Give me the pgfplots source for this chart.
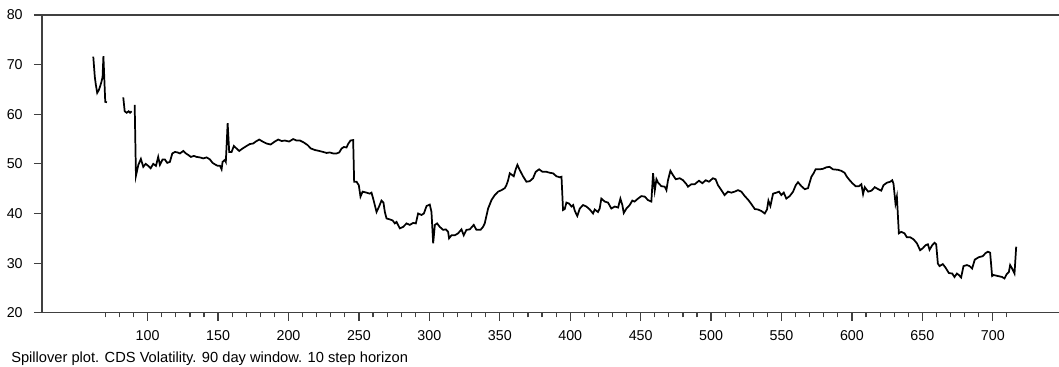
\documentclass[border=0pt]{standalone}
\usepackage{pgfplots}
\pgfplotsset{compat=1.18}
\usepackage{fontspec}
\setmainfont{Liberation Sans}
\begin{document}
\begin{tikzpicture}
\begin{axis}[
  name=ax,
  scale only axis,
  width=762.75pt, height=223.3pt,
  xmin=25, xmax=747, ymin=20, ymax=80,
  axis x line*=bottom, axis y line*=left,
  axis line style={black!75, line width=1pt},
  xtick={100,150,...,700},
  minor xtick={70,80,...,710},
  ytick={20,30,...,80},
  tick align=outside,
  major tick length=6pt, minor tick length=3.5pt,
  every x tick/.style={black!75, line width=0.9pt},
  every y tick/.style={black!75, line width=0.9pt},
  every minor tick/.style={black!75, line width=0.9pt},
  /pgf/number format/assume math mode=true,
  /pgf/number format/1000 sep={},
  ticklabel style={font=\fontsize{10.7}{12}\selectfont},
  yticklabel style={xshift=-5pt},
  xticklabel style={yshift=-3.5pt},
  clip=false,
]
\addplot[black, line width=1.3pt] coordinates {
(61.4,71.6) (62.5,67.5) (63.2,66.0) (64.2,64.3) (65.4,64.9) (67.0,66.3) (68.0,67.5) (68.6,71.7) (69.9,62.5) (71.1,62.4)
};
\addplot[black, line width=1.3pt] coordinates {
(82.7,63.4) (83.7,60.6) (85.1,60.3) (86.5,60.6) (87.5,60.3) (88.6,60.6)
};
\addplot[black, line width=1.3pt] coordinates {
(90.8,61.9) (91.7,47.6) (93.4,49.8) (95.2,51.0) (96.9,49.4) (98.6,50.0) (100.4,49.6) (102.1,49.1) (104.0,50.0) (105.9,49.6)
(107.5,51.4) (108.7,49.8) (110.6,50.9) (112.2,50.9) (113.9,50.2) (115.8,50.4) (117.5,52.1) (119.4,52.4) (121.3,52.3) (122.9,52.1)
(125.3,52.6) (127.2,52.1) (128.8,51.8) (130.7,51.4) (132.8,51.6) (134.8,51.4) (137.1,51.3) (139.5,51.1) (141.9,51.3) (144.2,50.9)
(146.1,50.2) (147.8,49.9) (149.7,49.6) (151.4,49.6) (152.5,48.9) (153.2,50.4) (154.8,50.8) (155.5,50.4) (156.8,58.2) (157.9,52.4)
(159.6,52.4) (161.2,53.6) (163.1,53.1) (165.0,52.6) (167.4,53.1) (170.2,53.6) (172.6,54.0) (174.9,54.1) (176.8,54.5) (179.2,54.9)
(181.6,54.5) (184.4,54.1) (187.3,53.9) (190.3,54.5) (192.7,54.9) (195.1,54.6) (197.4,54.7) (200.5,54.5) (203.3,55.0) (205.7,54.7)
(208.1,54.7) (210.9,54.3) (213.5,53.8) (215.9,53.1) (218.7,52.8) (221.8,52.6) (224.6,52.4) (227.0,52.2) (229.3,52.3) (231.7,52.1)
(234.1,52.1) (236.0,52.3) (237.7,53.1) (239.3,53.4) (241.2,53.3) (242.3,54.0) (244.0,54.7) (245.9,54.8) (246.6,46.4) (248.3,46.4)
(249.9,45.7) (251.1,43.4) (252.6,44.4) (255.4,44.2) (257.7,44.0) (258.9,44.2) (260.1,43.0) (262.5,40.3) (264.3,41.4) (266.0,42.6)
(267.4,42.2) (268.4,40.3) (269.6,39.0) (272.0,38.8) (273.9,38.6) (275.5,38.0) (276.7,38.3) (279.0,37.0) (281.4,37.3) (283.8,38.0)
(286.1,37.7) (288.5,38.1) (290.4,38.0) (292.0,40.0) (294.4,39.7) (296.1,40.0) (298.0,41.5) (300.3,41.8) (301.5,40.3) (302.7,34.0)
(303.9,37.7) (305.5,38.0) (307.4,37.3) (309.8,36.7) (311.7,36.8) (313.3,36.3) (314.0,35.0) (315.7,35.6) (318.0,35.6) (320.4,36.0)
(322.8,36.8) (324.4,35.6) (326.3,36.7) (328.7,36.8) (331.5,37.7) (333.4,36.7) (336.3,36.7) (338.1,37.3) (339.3,38.0) (341.7,41.0)
(344.1,42.7) (346.4,43.7) (348.8,44.4) (351.2,44.7) (353.5,45.1) (354.7,45.7) (355.9,46.7) (356.5,47.4) (357.1,48.1) (359.9,47.5)
(361.3,48.9) (362.5,49.8) (364.1,48.8) (366.5,47.5) (368.9,46.4) (371.2,46.5) (373.6,47.1) (375.5,48.4) (377.9,48.9) (380.3,48.4)
(383.1,48.4) (385.5,48.2) (387.8,48.1) (390.2,47.5) (392.6,47.3) (393.8,47.4) (394.9,40.7) (396.1,40.9) (397.3,42.2) (399.2,42.0)
(400.9,41.4) (402.1,41.7) (403.3,40.5) (405.0,39.5) (406.8,41.0) (409.1,41.7) (411.5,41.4) (413.9,40.8) (416.2,40.0) (417.4,40.8)
(419.7,40.3) (420.9,41.0) (422.1,43.0) (424.5,42.4) (426.8,42.2) (429.2,41.0) (431.6,41.4) (434.0,41.2) (435.6,43.0) (437.0,41.7)
(438.0,40.1) (439.9,41.0) (442.2,41.7) (444.1,42.6) (445.7,42.4) (448.1,43.0) (450.5,43.5) (452.9,43.4) (455.2,42.7) (457.6,42.4)
(458.8,48.1) (460.0,44.6) (461.2,46.9) (462.4,46.2) (464.7,45.5) (467.1,45.4) (468.3,44.7) (469.4,46.7) (471.1,48.6) (473.0,47.7)
(474.9,46.9) (477.8,47.1) (480.1,46.7) (482.5,45.9) (483.6,45.4) (486.0,45.9) (488.4,45.9) (491.4,46.6) (493.8,46.1) (496.2,46.7)
(498.5,46.4) (501.3,47.1) (503.2,46.9) (504.9,45.7) (507.3,44.7) (509.6,43.7) (512.0,44.4) (514.4,44.2) (516.7,44.4) (519.1,44.7)
(521.5,44.4) (523.9,43.5) (526.2,42.8) (528.6,41.9) (531.0,40.9) (533.3,40.8) (535.7,40.5) (538.1,40.0) (539.7,40.8) (540.7,42.6)
(542.1,41.5) (544.0,44.0) (546.4,44.2) (548.2,44.4) (549.9,43.7) (551.6,44.2) (553.4,43.0) (555.8,43.5) (558.2,44.4) (560.1,45.7)
(561.7,46.3) (564.1,45.5) (566.5,44.9) (568.8,45.1) (571.2,47.4) (572.8,48.1) (574.2,48.9) (577.1,48.9) (579.4,49.0) (581.8,49.3)
(584.1,49.4) (586.5,48.9) (590.1,48.8) (592.4,48.6) (594.8,48.2) (596.4,47.4) (598.4,46.7) (600.3,46.1) (602.6,45.5) (605.0,45.5)
(606.7,45.9) (607.9,43.9) (609.1,45.3) (611.5,44.4) (613.9,44.6) (616.2,45.3) (618.6,44.9) (620.8,44.6) (622.4,45.7) (624.8,46.2)
(627.2,46.4) (628.6,46.7) (629.5,46.0) (630.9,42.0) (631.9,43.4) (633.3,36.0) (635.0,36.3) (637.3,36.0) (639.0,35.2) (641.4,35.2)
(643.7,34.8) (646.1,34.0) (648.4,32.6) (650.3,33.0) (652.2,33.6) (653.9,33.8) (655.1,32.7) (657.0,33.6) (658.6,34.1) (659.8,33.8)
(661.0,29.9) (662.2,29.4) (664.5,29.8) (666.4,29.1) (668.8,28.0) (671.2,27.9) (672.8,27.2) (674.5,27.9) (675.9,27.6) (677.5,27.1)
(679.2,29.4) (681.6,29.6) (683.5,29.4) (685.3,28.9) (687.2,30.7) (690.1,31.2) (692.9,31.4) (694.8,32.0) (696.5,32.3) (698.1,32.1)
(699.5,27.4) (700.5,27.6) (703.6,27.4) (706.6,27.2) (708.3,26.9) (709.9,27.8) (711.4,28.2) (712.3,29.6) (713.7,28.9) (715.4,27.9)
(716.6,33.3)
};
\draw[black!75, line width=1pt] (rel axis cs:0,1) -- (rel axis cs:1,1);
\end{axis}
\node[anchor=base west, inner sep=0pt, font=\fontsize{11}{13}\selectfont]
  at ([xshift=-23.25pt, yshift=-37pt]ax.south west)
  {Spillover plot. CDS Volatility. 90 day window. 10 step horizon};
\pgfresetboundingbox
\path[use as bounding box] ([xshift=-31.5pt, yshift=-40pt]ax.south west) rectangle ([yshift=11.25pt]ax.north east);
\end{tikzpicture}
\end{document}
